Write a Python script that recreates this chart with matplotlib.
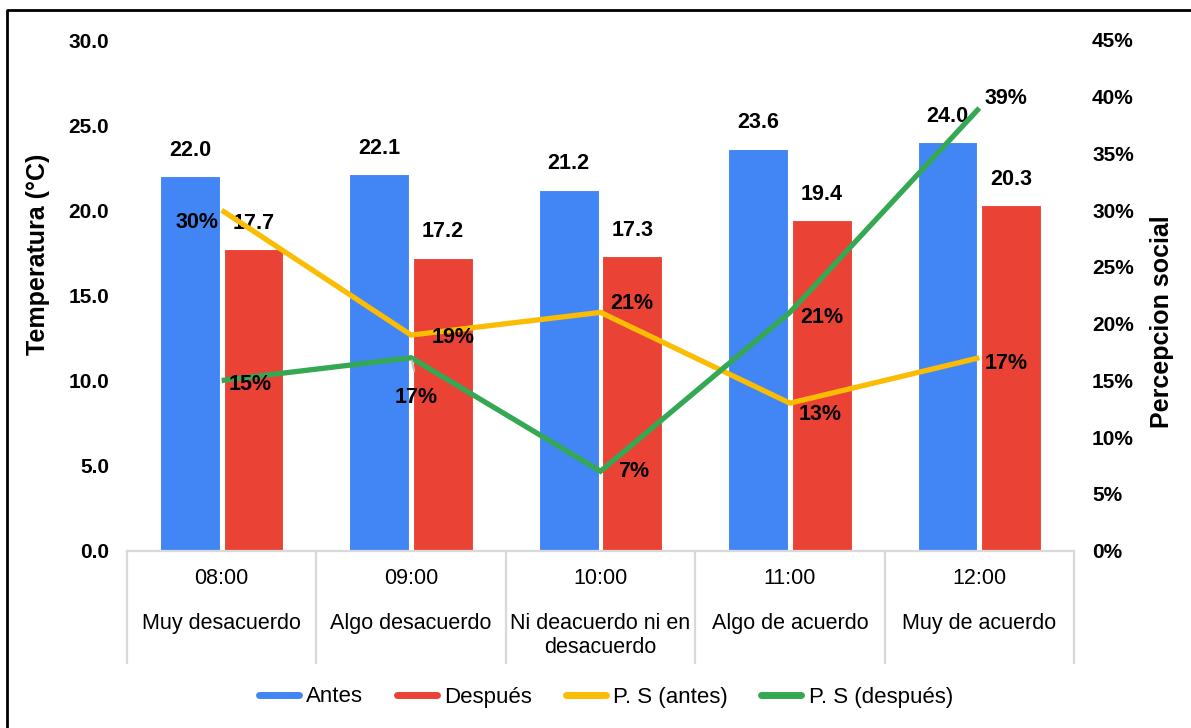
import matplotlib
matplotlib.use("Agg")
import matplotlib.pyplot as plt
import numpy as np
from matplotlib.lines import Line2D
from matplotlib.ticker import FuncFormatter
from matplotlib.transforms import blended_transform_factory

plt.rcParams['font.family'] = ['Liberation Sans', 'DejaVu Sans']

# ---- data ----
horas = ['08:00', '09:00', '10:00', '11:00', '12:00']
escala = ['Muy desacuerdo', 'Algo desacuerdo', 'Ni deacuerdo ni en\ndesacuerdo',
          'Algo de acuerdo', 'Muy de acuerdo']
temp_antes = [22.0, 22.1, 21.2, 23.6, 24.0]
temp_despues = [17.7, 17.2, 17.3, 19.4, 20.3]
ps_antes = [30, 19, 21, 13, 17]        # percent
ps_despues = [15, 17, 7, 21, 39]       # percent

AZUL = '#4285F4'
ROJO = '#EA4335'
AMARILLO = '#FBBC04'
VERDE = '#34A853'
GRIS = '#D9D9D9'

W, H = 1191, 728
fig = plt.figure(figsize=(W / 100, H / 100), dpi=100)
ax_left, ax_right, ax_bottom, ax_top = 127, 1074, 550.7, 40
ax = fig.add_axes([ax_left / W, 1 - ax_bottom / H,
                   (ax_right - ax_left) / W, (ax_bottom - ax_top) / H])

x = np.arange(len(horas))
bw = 0.315
off = 0.168
ax.bar(x - off, temp_antes, bw, color=AZUL, edgecolor='white', linewidth=0.8, zorder=2)
ax.bar(x + off, temp_despues, bw, color=ROJO, edgecolor='white', linewidth=0.8, zorder=2)

for xi, v in zip(x - off, temp_antes):
    ax.annotate(f'{v:.1f}', (xi, v), xytext=(0, 26), textcoords='offset pixels',
                ha='center', va='center', fontsize=15.5, fontweight='bold', zorder=3)
for xi, v in zip(x + off, temp_despues):
    ax.annotate(f'{v:.1f}', (xi, v), xytext=(0, 26), textcoords='offset pixels',
                ha='center', va='center', fontsize=15.5, fontweight='bold', zorder=3)

ax.set_xlim(-0.5, len(horas) - 0.5)
ax.set_ylim(0, 30)
ax.set_yticks(np.arange(0, 31, 5))
ax.yaxis.set_major_formatter(FuncFormatter(lambda v, p: f'{v:.1f}'))
ax.tick_params(axis='y', length=0, pad=13, labelsize=15)
for lbl in ax.get_yticklabels():
    lbl.set_fontweight('bold')
ax.set_xticks([])
for s in ['top', 'right', 'left']:
    ax.spines[s].set_visible(False)
ax.spines['bottom'].set_color(GRIS)
ax.spines['bottom'].set_linewidth(1.6)

# multi-level category labels
for i in x:
    ax.annotate(horas[i], (i, 0), xycoords=('data', 'axes fraction'),
                xytext=(0, -(578 - ax_bottom)), textcoords='offset pixels',
                ha='center', va='center', fontsize=15.5)
    ax.annotate(escala[i], (i, 0), xycoords=('data', 'axes fraction'),
                xytext=(0, -(613 - ax_bottom)), textcoords='offset pixels',
                ha='center', va='top', fontsize=15.5, linespacing=1.2,
                multialignment='center')

# category table dividers
tr = blended_transform_factory(ax.transData, fig.transFigure)
for k in range(len(horas) + 1):
    xv = k - 0.5
    fig.add_artist(Line2D([xv, xv], [1 - ax_bottom / H, 1 - 663 / H],
                          transform=tr, color=GRIS, lw=1.6))

ax.text(38 / W, 1 - 254 / H, 'Temperatura (°C)', transform=fig.transFigure,
        rotation=90, ha='center', va='center', fontsize=18, fontweight='bold')

# secondary axis: social perception
ax2 = ax.twinx()
ax2.set_ylim(0, 45)
ax2.set_yticks(np.arange(0, 46, 5))
ax2.yaxis.set_major_formatter(FuncFormatter(lambda v, p: f'{int(round(v))}%'))
ax2.tick_params(axis='y', length=0, pad=13, labelsize=15)
for lbl in ax2.get_yticklabels():
    lbl.set_fontweight('bold')
for s in ax2.spines.values():
    s.set_visible(False)

ax2.plot(x, ps_antes, color=AMARILLO, lw=3.8, solid_joinstyle='miter',
         solid_capstyle='butt', zorder=3)
ax2.plot(x, ps_despues, color=VERDE, lw=3.8, solid_joinstyle='miter',
         solid_capstyle='butt', zorder=3)

off_antes = [(-25, -12), (42, -2), (31, 9), (30, -11), (27, -6)]
off_despues = [(28, -4), (5, -40), (33, 0), (32, -5), (27, 10)]
for xi, v, o in zip(x, ps_antes, off_antes):
    ax2.annotate(f'{v}%', (xi, v), xytext=o, textcoords='offset pixels',
                 ha='center', va='center', fontsize=15.5, fontweight='bold', zorder=4)
for xi, v, o in zip(x, ps_despues, off_despues):
    ax2.annotate(f'{v}%', (xi, v), xytext=o, textcoords='offset pixels',
                 ha='center', va='center', fontsize=15.5, fontweight='bold', zorder=4)
# short leader line for the 09:00 label
ax2.annotate('', xy=(1, ps_despues[1]), xytext=(3, -13), textcoords='offset pixels',
             arrowprops=dict(arrowstyle='-', color='#BFBFBF', lw=1.5,
                             shrinkA=0, shrinkB=2))

ax2.text(1162 / W, 1 - 322 / H, 'Percepcion social', transform=fig.transFigure,
         rotation=90, ha='center', va='center', fontsize=18, fontweight='bold')

# legend
handles = [Line2D([], [], color=c, lw=5, solid_capstyle='round')
           for c in (AZUL, ROJO, AMARILLO, VERDE)]
labels = ['Antes', 'Después', 'P. S (antes)', 'P. S (después)']
fig.legend(handles, labels, loc='center', bbox_to_anchor=(606 / W, 1 - 697 / H),
           ncol=4, frameon=False, fontsize=16, handlelength=1.8,
           handletextpad=0.35, columnspacing=1.5)

# outer frame (left and top edges)
fig.add_artist(Line2D([7 / W, 7 / W, 1], [0, 1 - 10 / H, 1 - 10 / H],
                      transform=fig.transFigure, color='black', lw=2))

fig.savefig('out.png', dpi=100)
